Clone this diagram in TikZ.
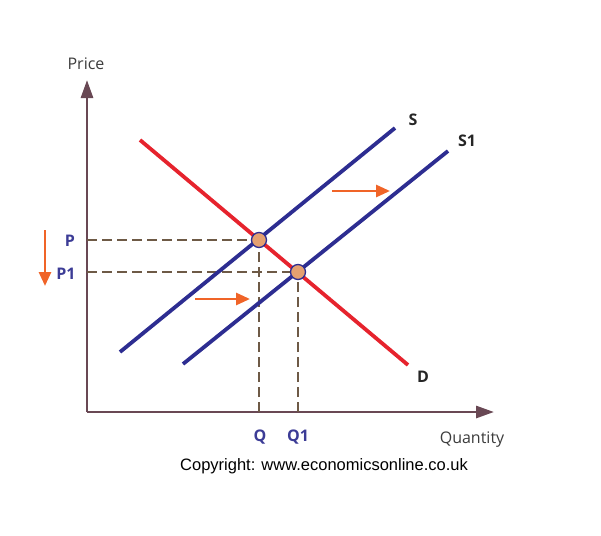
\documentclass[tikz,border=0pt]{standalone}
\usepackage{fontspec}
\setmainfont{Open Sans}
\newfontfamily\arialfont{Liberation Sans}
\usetikzlibrary{arrows.meta}
\definecolor{axiscol}{RGB}{105,72,84}
\definecolor{supcol}{RGB}{45,45,145}
\definecolor{demcol}{RGB}{230,35,45}
\definecolor{dotfill}{RGB}{228,160,112}
\definecolor{shiftcol}{RGB}{240,100,40}
\definecolor{lblcol}{RGB}{60,60,150}
\definecolor{dashcol}{RGB}{110,90,70}
\definecolor{txtcol}{RGB}{60,60,60}
\tikzset{
  axisline/.style={draw=axiscol, line width=2.8pt, -{Triangle[length=18pt,width=12pt]}},
  curve/.style={line width=3.8pt},
  guide/.style={draw=dashcol, line width=1.1pt, dash pattern=on 10pt off 5pt},
  eqdot/.style={circle, draw=supcol, line width=1.3pt, fill=dotfill, minimum size=15pt, inner sep=0pt},
  shiftarrow/.style={draw=shiftcol, line width=2.8pt, -{Triangle[length=14pt,width=12pt]}},
  axlbl/.style={text=txtcol, font=\fontsize{16}{18}\selectfont},
  ptlbl/.style={text=lblcol, font=\fontsize{16}{18}\selectfont\bfseries},
  crvlbl/.style={text=black!85, font=\fontsize{16}{18}\selectfont\bfseries}
}
\begin{document}
\begin{tikzpicture}[x=1pt,y=-1pt]
\useasboundingbox (0,0) rectangle (601,535);
% axes
\coordinate (O) at (87,412);
\coordinate (ytip) at (87,80);
\coordinate (xtip) at (494,412);
\draw[axisline] (O) -- (ytip);
\draw[axisline] (O) -- (xtip);
\node[axlbl] (price) at (86,64) {Price};
\node[axlbl] (qty) at (472,440) {Quantity};
% equilibrium points
\coordinate (E1) at (259,240);
\coordinate (E2) at (298,272);
\coordinate (yP) at (87,240);
\coordinate (yP1) at (87,272);
\coordinate (xQ) at (259,412);
\coordinate (xQ1) at (298,412);
\draw[guide] (yP) -- (E1);
\draw[guide] (yP1) -- (E2);
\draw[guide] (xQ) -- (E1);
\draw[guide] (xQ1) -- (E2);
% curves
\coordinate (Sa) at (120,352);
\coordinate (Sb) at (395,128);
\coordinate (S1a) at (183,364);
\coordinate (S1b) at (448,151);
\coordinate (Da) at (140,140);
\coordinate (Db) at (408,365);
\draw[curve, draw=supcol] (Sa) -- (Sb);
\draw[curve, draw=supcol] (S1a) -- (S1b);
\draw[curve, draw=demcol] (Da) -- (Db);
\node[eqdot] (e1) at (E1) {};
\node[eqdot] (e2) at (E2) {};
% curve labels
\node[crvlbl] (lS) at (413,120) {S};
\node[crvlbl] (lS1) at (467,141) {S1};
\node[crvlbl] (lD) at (423,377) {D};
% point labels
\node[ptlbl] (lP) at (70,241) {P};
\node[ptlbl] (lP1) at (66,274) {P1};
\node[ptlbl] (lQ) at (260,437) {Q};
\node[ptlbl] (lQ1) at (298,437) {Q1};
% shift arrows
\coordinate (a1s) at (332,191);
\coordinate (a1e) at (390,191);
\coordinate (a2s) at (195,299);
\coordinate (a2e) at (250,299);
\coordinate (a3s) at (45,230);
\coordinate (a3e) at (45,286);
\draw[shiftarrow] (a1s) -- (a1e);
\draw[shiftarrow] (a2s) -- (a2e);
\draw[shiftarrow] (a3s) -- (a3e);
% copyright
\node[text=black, font=\arialfont\fontsize{16.5}{19}\selectfont] (copy) at (324,466) {Copyright: www.economicsonline.co.uk};
\end{tikzpicture}
\end{document}
